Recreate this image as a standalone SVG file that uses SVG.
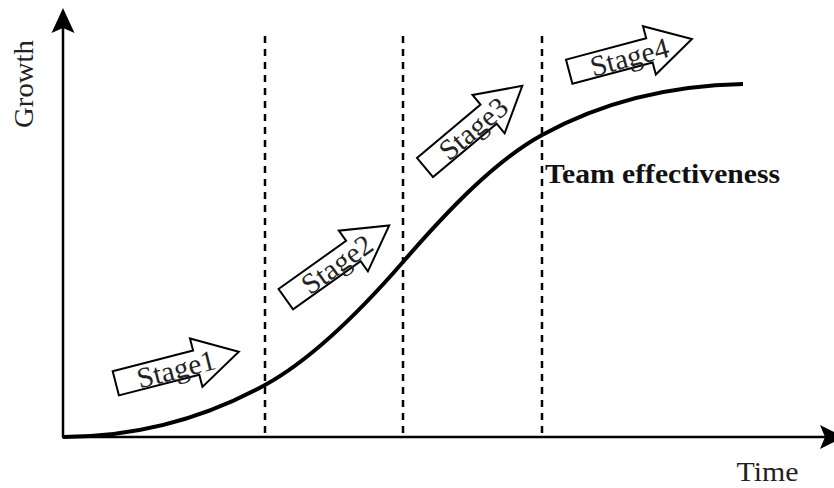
<svg xmlns="http://www.w3.org/2000/svg" width="834" height="488" viewBox="0 0 834 488">
  <style>
    .axis { stroke: #000; stroke-width: 2.5; fill: none; }
    .head { fill: #000; stroke: none; }
    .divider { stroke: #000; stroke-width: 2.5; stroke-dasharray: 7 6; fill: none; }
    .curve { stroke: #000; stroke-width: 4; fill: none; }
    .stage-shape { fill: #fff; stroke: #000; stroke-width: 2; stroke-linejoin: miter; }
    .stage-label { font-family: "Liberation Serif", "Times New Roman", serif; font-size: 29px; fill: #222; text-anchor: middle; }
    .axis-label { font-family: "Liberation Serif", "Times New Roman", serif; font-size: 27px; fill: #222; }
    .curve-label { font-family: "Liberation Serif", "Times New Roman", serif; font-size: 28px; font-weight: bold; fill: #111; }
  </style>
  <defs>
    <!-- block arrow pointing along +x, left edge centred on the origin -->
    <polygon id="stage-arrow" class="stage-shape" points="0,-12.5 83,-12.5 83,-25 127,0 83,25 83,12.5 0,12.5"/>
  </defs>

  <!-- axes -->
  <g id="axes">
    <line class="axis" x1="63" y1="437" x2="63" y2="26"/>
    <polygon class="head" points="63,8 51.5,33 63,28 74.5,33"/>
    <line class="axis" x1="62" y1="437" x2="826" y2="437"/>
    <polygon class="head" points="844,437 820,425 825,437 820,449"/>
    <text class="axis-label" transform="translate(33,84) rotate(-90)" text-anchor="middle" textLength="88" lengthAdjust="spacingAndGlyphs">Growth</text>
    <text class="axis-label" x="767.5" y="481" text-anchor="middle" textLength="62" lengthAdjust="spacingAndGlyphs">Time</text>
  </g>

  <!-- stage boundaries -->
  <g id="dividers">
    <line class="divider" x1="265" y1="36" x2="265" y2="437"/>
    <line class="divider" x1="403" y1="36" x2="403" y2="437"/>
    <line class="divider" x1="542" y1="36" x2="542" y2="437"/>
  </g>

  <!-- growth curve -->
  <g id="connectors">
    <path class="curve" d="M63,437 C130.3,437 197.7,422 265,385 C311,359.7 357,314.9 403,262 C449.3,208.7 495.7,160.5 542,135 C609,98.2 676,85.3 743,84"/>
  </g>
  <g id="curve-label">
    <text class="curve-label" x="545" y="183" textLength="235" lengthAdjust="spacingAndGlyphs">Team effectiveness</text>
  </g>

  <!-- stage arrows -->
  <g id="stage1" transform="translate(115.8,383.3) rotate(-14.4)">
    <use href="#stage-arrow"/>
    <text class="stage-label" x="62" y="11" textLength="80" lengthAdjust="spacingAndGlyphs">Stage1</text>
  </g>
  <g id="stage2" transform="translate(285.8,299.2) rotate(-35.5)">
    <use href="#stage-arrow"/>
    <text class="stage-label" x="62" y="11" textLength="80" lengthAdjust="spacingAndGlyphs">Stage2</text>
  </g>
  <g id="stage3" transform="translate(425,167.5) rotate(-40)">
    <use href="#stage-arrow"/>
    <text class="stage-label" x="62" y="11" textLength="80" lengthAdjust="spacingAndGlyphs">Stage3</text>
  </g>
  <g id="stage4" transform="translate(569.2,71.7) rotate(-14.9)">
    <use href="#stage-arrow"/>
    <text class="stage-label" x="62" y="11" textLength="80" lengthAdjust="spacingAndGlyphs">Stage4</text>
  </g>
</svg>
